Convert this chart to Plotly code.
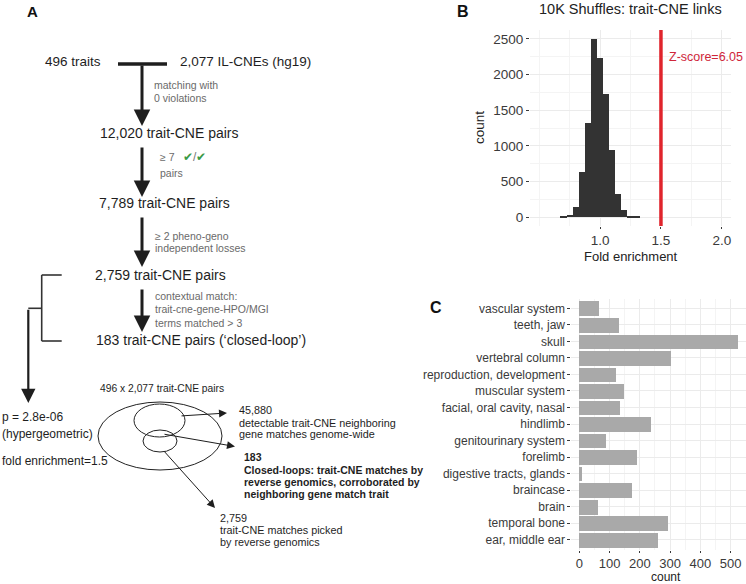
import plotly.graph_objects as go

W, H = 746, 584
FONT = "Liberation Sans, Arial, Helvetica, sans-serif"

# ---------------- Panel B data (10K shuffles histogram) ----------------
bin_centers = [0.70, 0.75, 0.80, 0.85, 0.90, 0.95, 1.00, 1.05, 1.10, 1.15, 1.20, 1.25, 1.30]
bin_counts = [4, 30, 140, 628, 1327, 2500, 2235, 1732, 945, 326, 93, 18, 3]
bin_width = 0.05
observed_fold = 1.5
z_label = "Z-score=6.05"
b_xticks = [1.0, 1.5, 2.0]
b_yticks = [0, 500, 1000, 1500, 2000, 2500]

# ---------------- Panel C data (counts per system) ----------------
systems = ["vascular system", "teeth, jaw", "skull", "vertebral column",
           "reproduction, development", "muscular system",
           "facial, oral cavity, nasal", "hindlimb", "genitourinary system",
           "forelimb", "digestive tracts, glands", "braincase", "brain",
           "temporal bone", "ear, middle ear"]
system_counts = [65, 133, 525, 306, 122, 148, 137, 238, 88, 192, 10, 177, 63, 295, 263]
c_xticks = [0, 100, 200, 300, 400, 500]


def px(x):
    return x / W


def py(y):
    return 1 - y / H


fig = go.Figure()

fig.add_trace(go.Bar(x=bin_centers, y=bin_counts, width=bin_width,
                     marker=dict(color="#333333", line=dict(width=0)),
                     xaxis="x", yaxis="y", showlegend=False, hoverinfo="skip"))

fig.add_trace(go.Bar(y=systems, x=system_counts, orientation="h", width=0.9,
                     marker=dict(color="#A9A9A9", line=dict(width=0)),
                     xaxis="x2", yaxis="y2", showlegend=False, hoverinfo="skip"))

TICKC = "#3a3a3a"
GRID = "#EBEBEB"
MINOR = "#F4F4F4"

fig.update_layout(
    width=W, height=H,
    margin=dict(l=0, r=0, t=0, b=0),
    paper_bgcolor="white", plot_bgcolor="white",
    font=dict(family=FONT, color="#222"),
    bargap=0,
    xaxis=dict(domain=[px(530), px(731)], range=[0.425, 2.075], anchor="y",
               tickvals=b_xticks, ticktext=["%.1f" % v for v in b_xticks],
               showgrid=True, gridcolor=GRID, gridwidth=1,
               minor=dict(dtick=0.25, tick0=0, showgrid=True, gridcolor=MINOR, gridwidth=1),
               ticks="outside", ticklen=2, tickcolor=TICKC, zeroline=False,
               showline=False, tickfont=dict(size=13.5, color=TICKC, family=FONT)),
    yaxis=dict(domain=[py(226), py(30)], range=[-125, 2625], anchor="x",
               tickvals=b_yticks, showgrid=True, gridcolor=GRID, gridwidth=1,
               minor=dict(dtick=250, tick0=0, showgrid=True, gridcolor=MINOR, gridwidth=1),
               ticks="outside", ticklen=3, tickcolor=TICKC, zeroline=False,
               showline=False, tickfont=dict(size=13.5, color=TICKC, family=FONT)),
    xaxis2=dict(domain=[px(571.4), 1.0], range=[-26, 551], anchor="y2",
                tickvals=c_xticks, showgrid=True, gridcolor=GRID, gridwidth=1,
                minor=dict(dtick=50, tick0=0, showgrid=True, gridcolor=MINOR, gridwidth=1),
                ticks="outside", ticklen=2, tickcolor=TICKC, zeroline=False,
                showline=False, tickfont=dict(size=13, color=TICKC, family=FONT)),
    yaxis2=dict(domain=[py(549.5), py(298.5)], anchor="x2", type="category",
                categoryorder="array", categoryarray=systems,
                range=[len(systems) - 0.4, -0.6],
                showgrid=True, gridcolor=GRID, gridwidth=1,
                ticks="outside", ticklen=3, tickcolor=TICKC, zeroline=False,
                showline=False, tickfont=dict(size=12, color=TICKC, family=FONT)),
)

# red observed line
fig.add_shape(type="line", xref="x", yref="y domain", x0=observed_fold, x1=observed_fold,
              y0=0, y1=1, line=dict(color="#E0242C", width=3.5))

ann = []


def txt(x, y, s, size=14, color="#1e1e1e", anchor="left", bold=False, angle=0):
    if bold:
        s = "<b>" + s + "</b>"
    ann.append(dict(x=px(x), y=py(y), xref="paper", yref="paper", text=s,
                    showarrow=False, xanchor=anchor, yanchor="middle",
                    textangle=angle,
                    font=dict(size=size, color=color, family=FONT)))


def arrow(x0, y0, x1, y1, width=3, size=1.1, head=2, color="#1e1e1e"):
    ann.append(dict(x=px(x1), y=py(y1), xref="paper", yref="paper", text="",
                    showarrow=True, ax=x0 - x1, ay=y0 - y1,
                    arrowhead=head, arrowsize=size, arrowwidth=width,
                    arrowcolor=color, standoff=0, startstandoff=0))


# panel B texts
ann.append(dict(x=observed_fold + 0.047, y=2253, xref="x", yref="y", text=z_label,
                showarrow=False, xanchor="left", yanchor="middle",
                font=dict(size=12.5, color="#D0263A", family=FONT)))
txt(630.5, 8.5, "10K Shuffles: trait-CNE links", size=14.5, color="#222", anchor="center")
txt(630.5, 257, "Fold enrichment", size=13, color="#222", anchor="center")
txt(479, 128, "count", size=13.5, color="#222", anchor="center", angle=-90)
txt(666, 576.5, "count", size=12, color="#222", anchor="center")

# panel labels
txt(32, 11.5, "A", size=15, anchor="center", bold=True, color="#111")
txt(463, 12, "B", size=16, anchor="center", bold=True, color="#111")
txt(436, 307.5, "C", size=16, anchor="center", bold=True, color="#111")

# ---------------- Panel A flowchart ----------------
GRAY = "#6a6a6a"
txt(43, 62, "496 traits", size=13.5)
txt(178, 62, "2,077 IL-CNEs (hg19)", size=13.5)
fig.add_shape(type="line", xref="paper", yref="paper", x0=px(118), x1=px(167),
              y0=py(64), y1=py(64), line=dict(color="#1e1e1e", width=3.5))

arrow(142, 64, 142, 126)
txt(152, 85, "matching with", size=10.5, color=GRAY)
txt(152, 98, "0 violations", size=10.5, color=GRAY)
txt(98, 133, "12,020 trait-CNE pairs", size=14)

arrow(142, 146, 142, 197)
txt(158, 157, "≥ 7", size=10.5, color=GRAY)
txt(181, 157, '<span style="color:#3a9a47">✔</span>'
              '<span style="color:#777">/</span>'
              '<span style="color:#3a9a47">✔</span>', size=12)
txt(158, 173, "pairs", size=10.5, color=GRAY)
txt(97, 203, "7,789 trait-CNE pairs", size=14)

arrow(142, 216, 142, 267)
txt(153, 236, "≥ 2 pheno-geno", size=10.5, color=GRAY)
txt(153, 248, "independent losses", size=10.5, color=GRAY)
txt(93, 275, "2,759 trait-CNE pairs", size=14)

arrow(142, 288, 142, 332)
txt(153, 296, "contextual match:", size=10.5, color=GRAY)
txt(153, 309, "trait-cne-gene-HPO/MGI", size=10.5, color=GRAY)
txt(153, 323, "terms matched > 3", size=10.5, color=GRAY)
txt(94, 340, "183 trait-CNE pairs (‘closed-loop’)", size=14)

# bracket
LC = "#333333"
for (xa, ya, xb, yb) in [(41.7, 275, 61.7, 275), (41.7, 341, 61.7, 341),
                         (41.7, 275, 41.7, 341), (28.3, 308.3, 41.7, 308.3)]:
    fig.add_shape(type="line", xref="paper", yref="paper", x0=px(xa), x1=px(xb),
                  y0=py(ya), y1=py(yb), line=dict(color=LC, width=1.6))
arrow(28.3, 308.3, 28.3, 403, width=2.2, size=1.3)

txt(0, 417, "p = 2.8e-06", size=12)
txt(0, 434, "(hypergeometric)", size=12)
txt(0, 461, "fold enrichment=1.5", size=12)

# Venn
txt(98, 388, "496 x 2,077 trait-CNE pairs", size=10.3)
for (xa, ya, xb, yb) in [(98, 402, 222, 470), (134, 404, 185, 437), (143, 430, 177, 452)]:
    fig.add_shape(type="circle", xref="paper", yref="paper", x0=px(xa), x1=px(xb),
                  y0=py(yb), y1=py(ya), line=dict(color="#222", width=1))

arrow(180, 416, 227, 413, width=1, size=1.6)
arrow(163, 434, 235, 446.5, width=1, size=1.6)
arrow(163, 450, 215, 508, width=1, size=1.6)

txt(237, 410, "45,880", size=10.8)
txt(237, 422.7, "detectable trait-CNE neighboring", size=10.8)
txt(237, 434.5, "gene matches genome-wide", size=10.8)
txt(242, 457, "183", size=10.5, bold=True)
txt(242, 470, "Closed-loops: trait-CNE matches by", size=10.5, bold=True)
txt(242, 481.7, "reverse genomics, corroborated by", size=10.5, bold=True)
txt(242, 493.5, "neighboring gene match trait", size=10.5, bold=True)
txt(218.3, 517.7, "2,759", size=10.8)
txt(218.3, 530, "trait-CNE matches picked", size=10.8)
txt(218.3, 542.3, "by reverse genomics", size=10.8)

fig.update_layout(annotations=ann)
fig.write_html("out.html", config={"displayModeBar": False},
               post_script="document.body.style.margin='0px';document.body.style.padding='0px';")
